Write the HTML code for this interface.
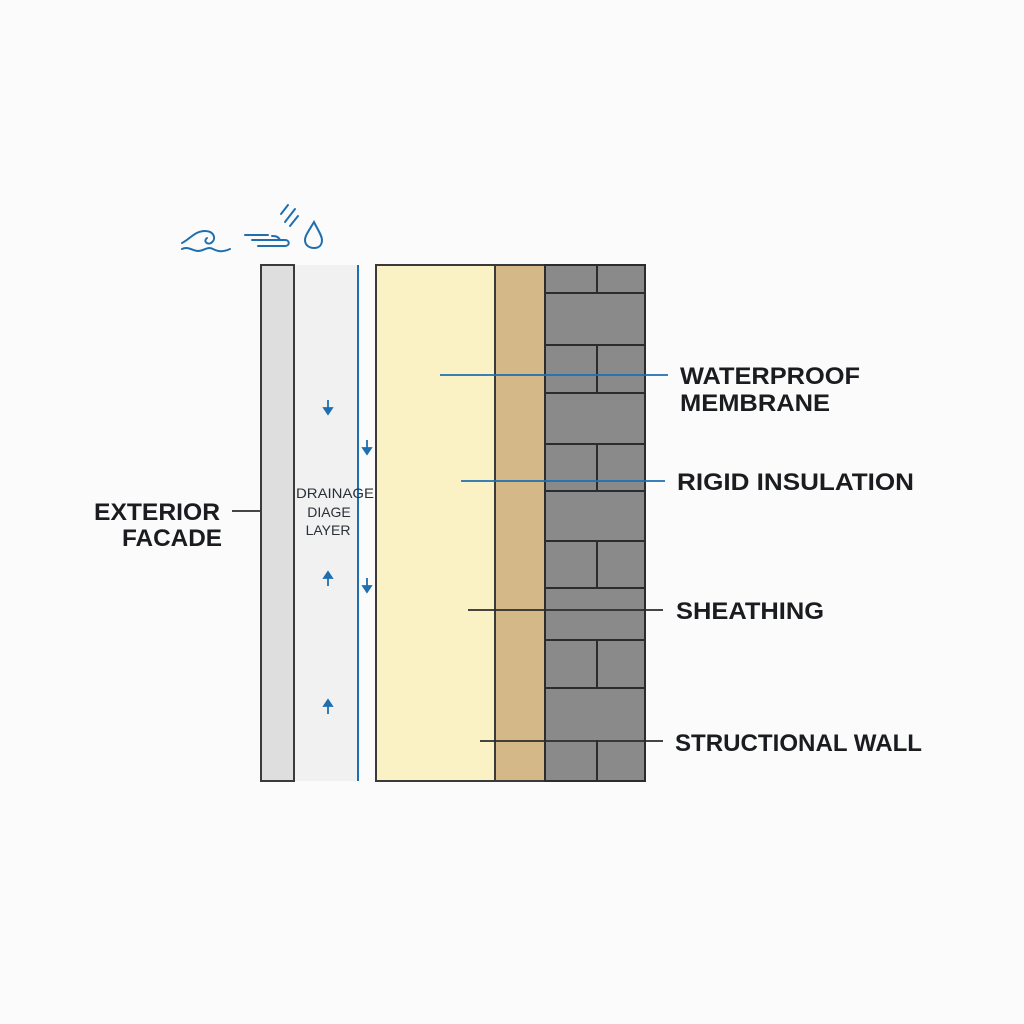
<!DOCTYPE html>
<html><head><meta charset="utf-8"><style>
html,body{margin:0;padding:0;background:#fbfbfb;}
svg{display:block}
text{font-family:"Liberation Sans",sans-serif;font-weight:bold;fill:#1a1c1f}
</style></head><body>
<svg width="1024" height="1024" viewBox="0 0 1024 1024" xmlns="http://www.w3.org/2000/svg">
<rect width="1024" height="1024" fill="#fbfbfb"/>
<!-- icons -->
<g fill="none" stroke="#1f6fb0" stroke-width="2" stroke-linecap="round">
<path d="M182 243 C190 239 195 231 205 231 C214 231 217 239 211 243 C207 245 203 241 207 238"/>
<path d="M182 249 C188 246 193 251 198 251 C204 251 207 246 213 249 C219 252 223 252 230 249"/>
<path d="M245 235 H268 M252 240 H285 C290 240 290 246 285 246 H272 M258 246 H282 M272 236 C275 236 278 236 280 240"/>
<path d="M281 214 L288 205 M285 222 L295 209 M290 226 L298 216"/>
<path d="M314 222 C308 232 305 236 305 240 C305 245 309 248 314 248 C319 248 322 245 322 240 C322 236 319 232 314 222 Z"/>
</g>
<rect x="261" y="265" width="33" height="516" fill="#dedede" stroke="#3a3a3a" stroke-width="2"/>
<rect x="295" y="265" width="63" height="516" fill="#f1f1f1"/>
<line x1="358" y1="265" x2="358" y2="781" stroke="#1f6fb0" stroke-width="2"/>
<rect x="376" y="265" width="119" height="516" fill="#faf2c4" stroke="#3a3a3a" stroke-width="2"/>
<rect x="495" y="265" width="50" height="516" fill="#d4b887" stroke="#3a3a3a" stroke-width="2"/>
<rect x="545" y="265" width="100" height="516" fill="#8a8a8a" stroke="#2c2c2c" stroke-width="2"/>
<g stroke="#2c2c2c" stroke-width="2">
<line x1="545" y1="293" x2="645" y2="293"/>
<line x1="545" y1="345" x2="645" y2="345"/>
<line x1="545" y1="393" x2="645" y2="393"/>
<line x1="545" y1="444" x2="645" y2="444"/>
<line x1="545" y1="491" x2="645" y2="491"/>
<line x1="545" y1="541" x2="645" y2="541"/>
<line x1="545" y1="588" x2="645" y2="588"/>
<line x1="545" y1="640" x2="645" y2="640"/>
<line x1="545" y1="688" x2="645" y2="688"/>
<line x1="597" y1="265" x2="597" y2="293"/>
<line x1="597" y1="345" x2="597" y2="393"/>
<line x1="597" y1="444" x2="597" y2="491"/>
<line x1="597" y1="541" x2="597" y2="588"/>
<line x1="597" y1="640" x2="597" y2="688"/>
<line x1="597" y1="740" x2="597" y2="781"/>
</g>
<g stroke="#1f6fb0" stroke-width="1.8" fill="#1f6fb0">
<line x1="328" y1="400" x2="328" y2="410"/><path d="M324 408 L328 414 L332 408Z"/>
<line x1="367" y1="440" x2="367" y2="450"/><path d="M363 448 L367 454 L371 448Z"/>
<line x1="367" y1="578" x2="367" y2="588"/><path d="M363 586 L367 592 L371 586Z"/>
<line x1="328" y1="576" x2="328" y2="586"/><path d="M324 578 L328 572 L332 578Z"/>
<line x1="328" y1="704" x2="328" y2="714"/><path d="M324 706 L328 700 L332 706Z"/>
</g>
<g style="fill:#2a3038">
<text x="335" y="498" font-size="14" text-anchor="middle" textLength="78" lengthAdjust="spacingAndGlyphs" style="font-weight:normal;fill:#2a3038">DRAINAGE</text>
<text x="329" y="517" font-size="14" text-anchor="middle" style="font-weight:normal;fill:#2a3038">DIAGE</text>
<text x="328" y="535" font-size="14" text-anchor="middle" style="font-weight:normal;fill:#2a3038">LAYER</text>
</g>
<g stroke-width="1.8">
<line x1="440" y1="375" x2="668" y2="375" stroke="#1f6fb0"/>
<line x1="461" y1="481" x2="665" y2="481" stroke="#1f6fb0"/>
<line x1="468" y1="610" x2="663" y2="610" stroke="#2c2c2c"/>
<line x1="480" y1="741" x2="663" y2="741" stroke="#2c2c2c"/>
<line x1="232" y1="511" x2="260" y2="511" stroke="#2c2c2c"/>
</g>
<text x="680" y="384" font-size="24" textLength="180" lengthAdjust="spacingAndGlyphs">WATERPROOF</text>
<text x="680" y="411" font-size="24" textLength="150" lengthAdjust="spacingAndGlyphs">MEMBRANE</text>
<text x="677" y="490" font-size="24" textLength="237" lengthAdjust="spacingAndGlyphs">RIGID INSULATION</text>
<text x="676" y="619" font-size="24" textLength="148" lengthAdjust="spacingAndGlyphs">SHEATHING</text>
<text x="675" y="751" font-size="24" textLength="247" lengthAdjust="spacingAndGlyphs">STRUCTIONAL WALL</text>
<text x="94" y="520" font-size="24" textLength="126" lengthAdjust="spacingAndGlyphs">EXTERIOR</text>
<text x="122" y="546" font-size="24" textLength="100" lengthAdjust="spacingAndGlyphs">FACADE</text>
</svg>
</body></html>
